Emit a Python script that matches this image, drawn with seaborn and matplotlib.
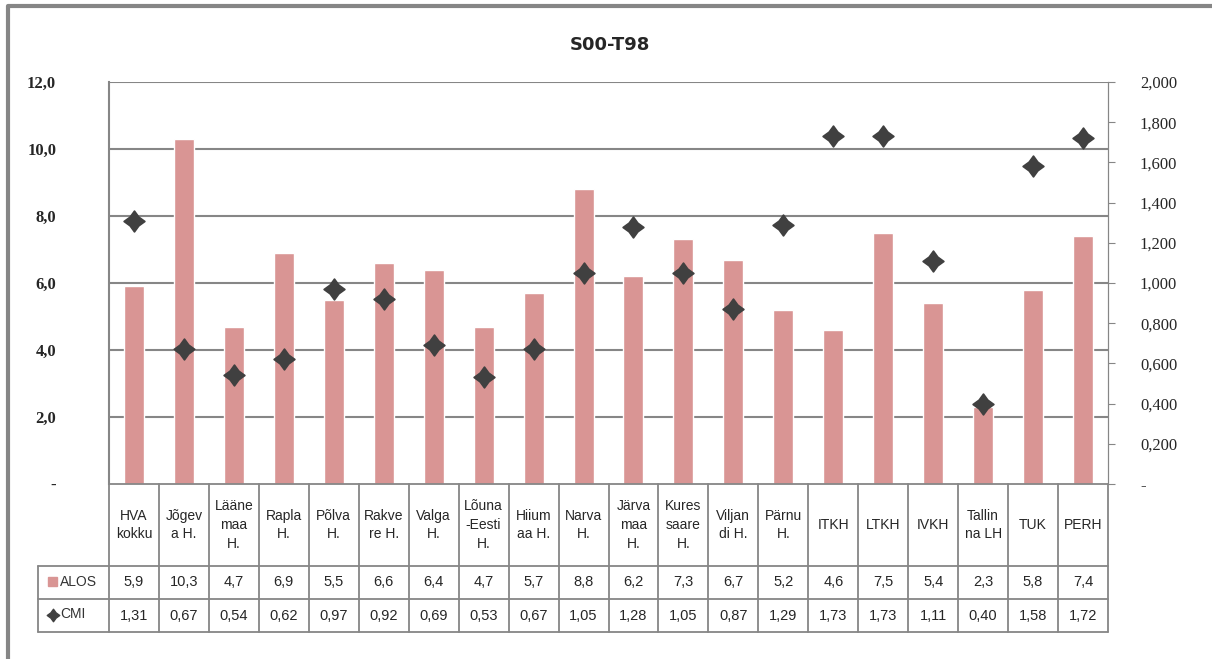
import numpy as np
import pandas as pd
import matplotlib
matplotlib.use("Agg")
import matplotlib.pyplot as plt
from matplotlib.path import Path
import seaborn as sns

# andmed
kategooriad = ["HVA\nkokku", "Jõgev\na H.", "Lääne\nmaa\nH.", "Rapla\nH.", "Põlva\nH.",
               "Rakve\nre H.", "Valga\nH.", "Lõuna\n-Eesti\nH.", "Hiium\naa H.", "Narva\nH.",
               "Järva\nmaa\nH.", "Kures\nsaare\nH.", "Viljan\ndi H.", "Pärnu\nH.", "ITKH",
               "LTKH", "IVKH", "Tallin\nna LH", "TUK", "PERH"]
alos = [5.9, 10.3, 4.7, 6.9, 5.5, 6.6, 6.4, 4.7, 5.7, 8.8,
        6.2, 7.3, 6.7, 5.2, 4.6, 7.5, 5.4, 2.3, 5.8, 7.4]
cmi = [1.31, 0.67, 0.54, 0.62, 0.97, 0.92, 0.69, 0.53, 0.67, 1.05,
       1.28, 1.05, 0.87, 1.29, 1.73, 1.73, 1.11, 0.40, 1.58, 1.72]
vasak_ticks = [0, 2, 4, 6, 8, 10, 12]
parem_ticks = [0, 0.2, 0.4, 0.6, 0.8, 1.0, 1.2, 1.4, 1.6, 1.8, 2.0]

df = pd.DataFrame({"kat": range(len(kategooriad)), "ALOS": alos, "CMI": cmi})

W, H = 1212, 659
fig = plt.figure(figsize=(W / 100, H / 100), dpi=100)
sns.set_style("white")
plt.rcParams['font.family'] = ['DejaVu Sans']

halli = "#868686"
roosa = "#D99594"
tume = "#404040"

# Exceli moodi teravatipuline romb
t = 0.42
taht = Path([(0, 1), (t, t), (1, 0), (t, -t), (0, -1), (-t, -t), (-1, 0), (-t, t), (0, 1)],
            [Path.MOVETO] + [Path.LINETO] * 7 + [Path.CLOSEPOLY])

# plot area pikslites
x0, x1, ytop, ybot = 109, 1108, 82, 484
ax = fig.add_axes([x0 / W, 1 - ybot / H, (x1 - x0) / W, (ybot - ytop) / H])
sns.barplot(data=df, x="kat", y="ALOS", color=roosa, width=0.4, saturation=1, ax=ax)
ax.set_xlim(-0.5, len(kategooriad) - 0.5)
ax.set_ylim(0, 12)
ax.set_yticks(vasak_ticks)
ax.set_yticklabels(["-" if v == 0 else f"{v:.1f}".replace(".", ",") for v in vasak_ticks],
                   family="Liberation Serif", fontsize=12, fontweight="bold")
ax.set_xticks([])
ax.set_xlabel("")
ax.set_ylabel("")
ax.tick_params(axis="y", length=0, pad=38)
for v in vasak_ticks[1:]:
    ax.axhline(v, color=halli, lw=1.5, zorder=0)
for s in ["top", "bottom"]:
    ax.spines[s].set_visible(False)
ax.spines["left"].set_color(halli)
ax.spines["left"].set_linewidth(1.5)
ax.spines["right"].set_color(halli)

ax2 = ax.twinx()
ax2.plot(df["kat"], df["CMI"], linestyle="none", marker=taht, markersize=15,
         color=tume, markeredgecolor=tume, markeredgewidth=1.2)
ax2.set_ylim(0, 2.0)
ax2.set_yticks(parem_ticks)
ax2.set_yticklabels(["-" if v == 0 else f"{v:.3f}".replace(".", ",") for v in parem_ticks],
                    family="Liberation Serif", fontsize=12)
ax2.tick_params(axis="y", length=5, color=halli, pad=18)
for s in ["top", "bottom", "left"]:
    ax2.spines[s].set_visible(False)
ax2.spines["right"].set_color(halli)

fig.text(610 / W, 1 - 45 / H, "S00-T98", ha="center", va="center",
         fontsize=13, fontweight="bold")

# tabel ja raam ülekattes
ov = fig.add_axes([0, 0, 1, 1])
ov.set_xlim(0, W)
ov.set_ylim(H, 0)
ov.axis("off")
ov.patch.set_alpha(0)

ov.plot([8, 8, W], [H, 6, 6], color=halli, lw=3, solid_capstyle="butt")

n = len(kategooriad)
w = (x1 - x0) / n
r1, r2, r3 = 566, 599, 632
lx = 38
jk = dict(color=halli, lw=1.3)
ov.plot([x0, x1], [ybot, ybot], **jk)
ov.plot([lx, x1], [r1, r1], **jk)
ov.plot([lx, x1], [r2, r2], **jk)
ov.plot([lx, x1], [r3, r3], **jk)
ov.plot([lx, lx], [r1, r3], **jk)
for i in range(n + 1):
    xx = x0 + i * w
    ov.plot([xx, xx], [ybot, r3], **jk)

for i, k in enumerate(kategooriad):
    cx = x0 + (i + 0.5) * w
    ov.text(cx, (ybot + r1) / 2, k, ha="center", va="center", fontsize=10,
            linespacing=1.45, family="Liberation Sans")
    ov.text(cx, (r1 + r2) / 2, f"{alos[i]:.1f}".replace(".", ","), ha="center",
            va="center", fontsize=10.5, family="Liberation Sans")
    ov.text(cx, (r2 + r3) / 2, f"{cmi[i]:.2f}".replace(".", ","), ha="center",
            va="center", fontsize=10.5, family="Liberation Sans")

ov.add_patch(plt.Rectangle((48, 577), 9, 9, color=roosa))
ov.text(60, (r1 + r2) / 2, "ALOS", ha="left", va="center", fontsize=10,
        family="Liberation Sans", color="#333333")
ov.plot([52.5], [(r2 + r3) / 2 - 1], marker=taht, markersize=9, color=tume, linestyle="none")
ov.text(60, (r2 + r3) / 2 - 1, "CMI", ha="left", va="center", fontsize=10,
        family="Liberation Sans", color="#333333")

fig.savefig("out.png", dpi=100)
